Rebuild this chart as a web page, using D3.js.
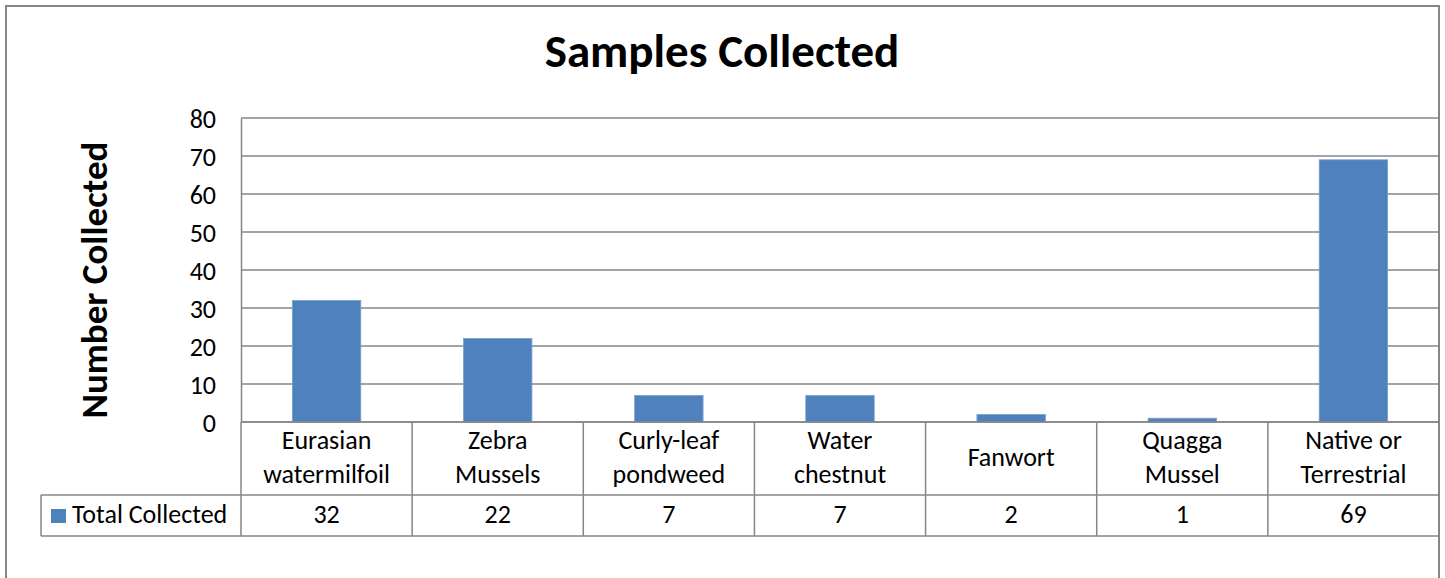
<!DOCTYPE html>
<html>
<head>
<meta charset="utf-8">
<script src="https://cdn.jsdelivr.net/npm/d3@7"></script>
<style>
  html, body { margin: 0; padding: 0; background: #fff; }
  svg { display: block; }
  text { font-family: Carlito, Lato, "Open Sans", sans-serif; fill: #000; }
</style>
</head>
<body>
<svg id="chart" width="1445" height="578"></svg>
<script>
const categories = [
  ["Eurasian", "watermilfoil"],
  ["Zebra", "Mussels"],
  ["Curly-leaf", "pondweed"],
  ["Water", "chestnut"],
  ["Fanwort"],
  ["Quagga", "Mussel"],
  ["Native or", "Terrestrial"]
];
const values = [32, 22, 7, 7, 2, 1, 69];
const yTicks = [0, 10, 20, 30, 40, 50, 60, 70, 80];
const seriesName = "Total Collected";
const titleText = "Samples Collected";
const yAxisTitle = "Number Collected";

const svg = d3.select("#chart");
const gridColor = "#868686";
const barColor = "#4F81BD";
const fontStack = "Carlito, Lato, 'Open Sans', sans-serif";
const bodySize = "26px";

const plot = { left: 241, right: 1439, top: 118, bottom: 422 };
const table = { left: 41, labelBottom: 495, valueBottom: 536 };

const idx = d3.range(categories.length);
const xCol = d3.scaleBand().domain(idx).range([plot.left, plot.right]).padding(0);
const xBar = d3.scaleBand().domain(idx).range([plot.left, plot.right]).paddingInner(0.6).paddingOuter(0.3);
const y = d3.scaleLinear().domain([0, 80]).range([plot.bottom, plot.top]);

// outer frame
svg.append("rect")
  .attr("x", 6).attr("y", 6).attr("width", 1433).attr("height", 600)
  .attr("fill", "none").attr("stroke", gridColor).attr("stroke-width", 2);

// title
svg.append("text")
  .attr("x", 722).attr("y", 67)
  .attr("text-anchor", "middle")
  .style("font-size", "47px").style("font-weight", "bold")
  .text(titleText);

// y axis title
svg.append("text")
  .attr("transform", "translate(107,280) rotate(-90)")
  .attr("text-anchor", "middle")
  .style("font-size", "37px").style("font-weight", "bold")
  .text(yAxisTitle);

// gridlines
svg.append("g").selectAll("line").data(yTicks).join("line")
  .attr("x1", plot.left).attr("x2", plot.right)
  .attr("y1", d => y(d)).attr("y2", d => y(d))
  .attr("stroke", gridColor).attr("stroke-width", 1.5);

// y axis via d3 axis (labels only, styled)
const yAxis = d3.axisLeft(y).tickValues(yTicks).tickSize(0).tickPadding(25);
const gy = svg.append("g").attr("transform", `translate(${plot.left},0)`).call(yAxis);
gy.select(".domain").attr("stroke", gridColor).attr("stroke-width", 1.5);
gy.selectAll("text").style("font-size", bodySize).style("font-family", fontStack).attr("fill", "#000").attr("dy", "0.36em");

// right edge of plot
svg.append("line")
  .attr("x1", plot.right).attr("x2", plot.right).attr("y1", plot.top).attr("y2", table.valueBottom)
  .attr("stroke", gridColor).attr("stroke-width", 1.5);

// bars
svg.append("g").selectAll("rect").data(values).join("rect")
  .attr("x", (d, i) => xBar(i))
  .attr("width", xBar.bandwidth())
  .attr("y", d => y(d))
  .attr("height", d => y(0) - y(d))
  .attr("fill", barColor)
  .attr("stroke", "#7EA1CE").attr("stroke-width", 0.8);

// table lines
const tbl = svg.append("g").attr("stroke", gridColor).attr("stroke-width", 1.5);
tbl.append("line").attr("x1", plot.left).attr("x2", plot.right).attr("y1", plot.bottom).attr("y2", plot.bottom);
[table.labelBottom, table.valueBottom].forEach(yy => {
  tbl.append("line").attr("x1", table.left).attr("x2", plot.right).attr("y1", yy).attr("y2", yy);
});
tbl.selectAll("line.col").data(idx).join("line").attr("class", "col")
  .attr("x1", i => xCol(i)).attr("x2", i => xCol(i))
  .attr("y1", plot.bottom).attr("y2", table.valueBottom);
tbl.append("line").attr("x1", table.left).attr("x2", table.left).attr("y1", table.labelBottom).attr("y2", table.valueBottom);

// category labels
const labelMid = (plot.bottom + table.labelBottom) / 2;
const lineGap = 34;
svg.append("g").selectAll("text").data(categories).join("text")
  .attr("text-anchor", "middle")
  .style("font-size", bodySize)
  .each(function(lines, i) {
    const t = d3.select(this);
    const n = lines.length;
    lines.forEach((ln, k) => {
      t.append("tspan")
        .attr("x", xCol(i) + xCol.bandwidth() / 2)
        .attr("y", labelMid + (k - (n - 1) / 2) * lineGap + 7.5)
        .text(ln);
    });
  });

// values
const valMid = (table.labelBottom + table.valueBottom) / 2;
svg.append("g").selectAll("text").data(values).join("text")
  .attr("x", (d, i) => xCol(i) + xCol.bandwidth() / 2)
  .attr("y", valMid + 7.5)
  .attr("text-anchor", "middle")
  .style("font-size", bodySize)
  .text(d => d);

// legend key
svg.append("rect").attr("x", 51).attr("y", 509).attr("width", 15).attr("height", 14).attr("fill", barColor);
svg.append("text").attr("x", 72).attr("y", valMid + 7.5).style("font-size", bodySize).text(seriesName);
</script>
</body>
</html>
